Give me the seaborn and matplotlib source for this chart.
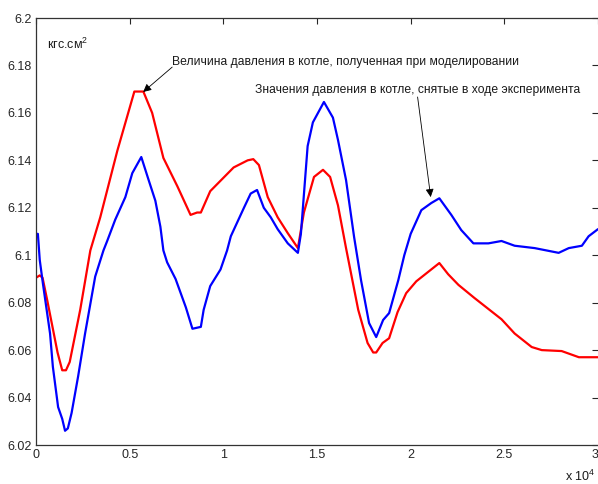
import numpy as np
import pandas as pd
import seaborn as sns
import matplotlib
matplotlib.use("Agg")
import matplotlib.pyplot as plt
from matplotlib.ticker import FuncFormatter

# ---- data (time in seconds, pressure in kgf/cm^2) ----
t_model = [0, 200, 350, 600, 900, 1150, 1400, 1600, 1800, 2360, 2900, 3430, 4340,
           5250, 5730, 6200, 6800, 7550, 8250, 8600, 8800, 9300, 10550, 11300, 11600,
           11900, 12370, 12900, 13440, 13980, 14300, 14840, 15320, 15700, 16120,
           16550, 17200, 17700, 18000, 18160, 18500, 18850, 19300, 19760, 20300,
           21530, 22000, 22550, 23400, 24850, 25550, 26460, 27000, 28060, 28980, 30000]
p_model = [6.0905, 6.0915, 6.0905, 6.081, 6.069, 6.059, 6.0515, 6.0515, 6.055, 6.077,
           6.102, 6.116, 6.144, 6.169, 6.169, 6.160, 6.141, 6.129, 6.117, 6.118, 6.118,
           6.127, 6.137, 6.140, 6.1405, 6.138, 6.1245, 6.116, 6.1093, 6.103, 6.118,
           6.133, 6.136, 6.133, 6.121, 6.103, 6.077, 6.063, 6.059, 6.059, 6.063, 6.065,
           6.076, 6.084, 6.089, 6.0967, 6.092, 6.0875, 6.082, 6.073, 6.067, 6.0613,
           6.060, 6.0596, 6.057, 6.057]

t_exp = [0, 100, 200, 370, 750, 900, 1180, 1400, 1550, 1700, 1900, 2250, 2620, 3160,
         3600, 3800, 4230, 4770, 5140, 5620, 6000, 6370, 6640, 6800, 7000, 7450, 8000,
         8350, 8800, 8950, 9300, 9850, 10200, 10400, 11100, 11460, 11800, 12160,
         12530, 12900, 13440, 13980, 14140, 14500, 14780, 15370, 15850, 16120, 16550,
         16980, 17350, 17780, 18160, 18530, 18850, 19340, 19660, 20000, 20570, 21100,
         21530, 22170, 22700, 23350, 24150, 24850, 25550, 26620, 27900, 28440, 29140,
         29500, 30000]
p_exp = [6.109, 6.109, 6.098, 6.088, 6.067, 6.053, 6.036, 6.031, 6.026, 6.027, 6.0335,
         6.049, 6.067, 6.091, 6.102, 6.106, 6.115, 6.1245, 6.1346, 6.1414, 6.132, 6.123,
         6.112, 6.102, 6.097, 6.090, 6.078, 6.069, 6.0698, 6.077, 6.087, 6.094, 6.102,
         6.108, 6.120, 6.126, 6.1275, 6.120, 6.116, 6.111, 6.105, 6.101, 6.109, 6.146,
         6.156, 6.1646, 6.158, 6.1486, 6.1317, 6.1077, 6.0895, 6.0714, 6.0655, 6.0727,
         6.0756, 6.0895, 6.100, 6.109, 6.119, 6.122, 6.124, 6.117, 6.1106, 6.105, 6.105,
         6.106, 6.104, 6.103, 6.101, 6.103, 6.104, 6.108, 6.111]

x_ticks = [0, 5000, 10000, 15000, 20000, 25000, 30000]
y_ticks = [6.02, 6.04, 6.06, 6.08, 6.10, 6.12, 6.14, 6.16, 6.18, 6.20]

unit_label = "кгс.см$^2$"
note_model = "Величина давления в котле, полученная при моделировании"
note_exp = "Значения давления в котле, снятые в ходе эксперимента"
x_scale_label = "x 10$^4$"

# ---- style ----
sns.set_theme(style="white")
plt.rcParams["font.family"] = ["Liberation Sans", "DejaVu Sans"]
plt.rcParams["mathtext.fontset"] = "custom"
plt.rcParams["mathtext.rm"] = "Liberation Sans"
plt.rcParams["mathtext.it"] = "Liberation Sans"

fig = plt.figure(figsize=(5.98, 4.84), dpi=100)
W, H = 598, 484
ax = fig.add_axes([36 / W, (H - 445) / H, 562 / W, 427 / H])

df_model = pd.DataFrame({"t": t_model, "p": p_model})
df_exp = pd.DataFrame({"t": t_exp, "p": p_exp})
sns.lineplot(data=df_model, x="t", y="p", ax=ax, color="#ff0000", lw=1.6,
             sort=False, estimator=None)
sns.lineplot(data=df_exp, x="t", y="p", ax=ax, color="#0000ff", lw=1.6,
             sort=False, estimator=None)

ax.set_xlim(0, 30000)
ax.set_ylim(6.02, 6.2)
ax.set_xticks(x_ticks)
ax.set_yticks(y_ticks)
ax.xaxis.set_major_formatter(FuncFormatter(lambda v, p: f"{v/1e4:g}"))
ax.yaxis.set_major_formatter(FuncFormatter(lambda v, p: f"{v:g}"))
ax.set_xlabel("")
ax.set_ylabel("")
ax.tick_params(direction="in", length=4, width=0.8, colors="#262626",
               labelsize=9, top=True, right=True, pad=3)
for s in ax.spines.values():
    s.set_color("#333333")
    s.set_linewidth(0.9)
ax.spines["right"].set_visible(False)

# keep the last x tick label inside the figure
fig.canvas.draw()
xlabels = ax.get_xticklabels()
xlabels[-1].set_horizontalalignment("right")

ax.text(590, 6.189, unit_label, fontsize=9, color="#1a1a1a",
        va="center", ha="left")

ax.text(7270, 6.1815, note_model, fontsize=8.75, color="#1a1a1a",
        va="center", ha="left")
ax.annotate("", xy=(5720, 6.1688), xytext=(7270, 6.1793),
            arrowprops=dict(arrowstyle="-|>", color="black", lw=0.6,
                            mutation_scale=12, shrinkA=0, shrinkB=0))
ax.text(11710, 6.1696, note_exp, fontsize=8.75, color="#1a1a1a",
        va="center", ha="left")
ax.annotate("", xy=(21070, 6.1245), xytext=(20370, 6.1667),
            arrowprops=dict(arrowstyle="-|>", color="black", lw=0.6,
                            mutation_scale=12, shrinkA=0, shrinkB=0))

fig.text(595 / W, 1 - 476 / H, x_scale_label, fontsize=9, color="#1a1a1a",
         va="center", ha="right")

fig.savefig("out.png", dpi=100)
